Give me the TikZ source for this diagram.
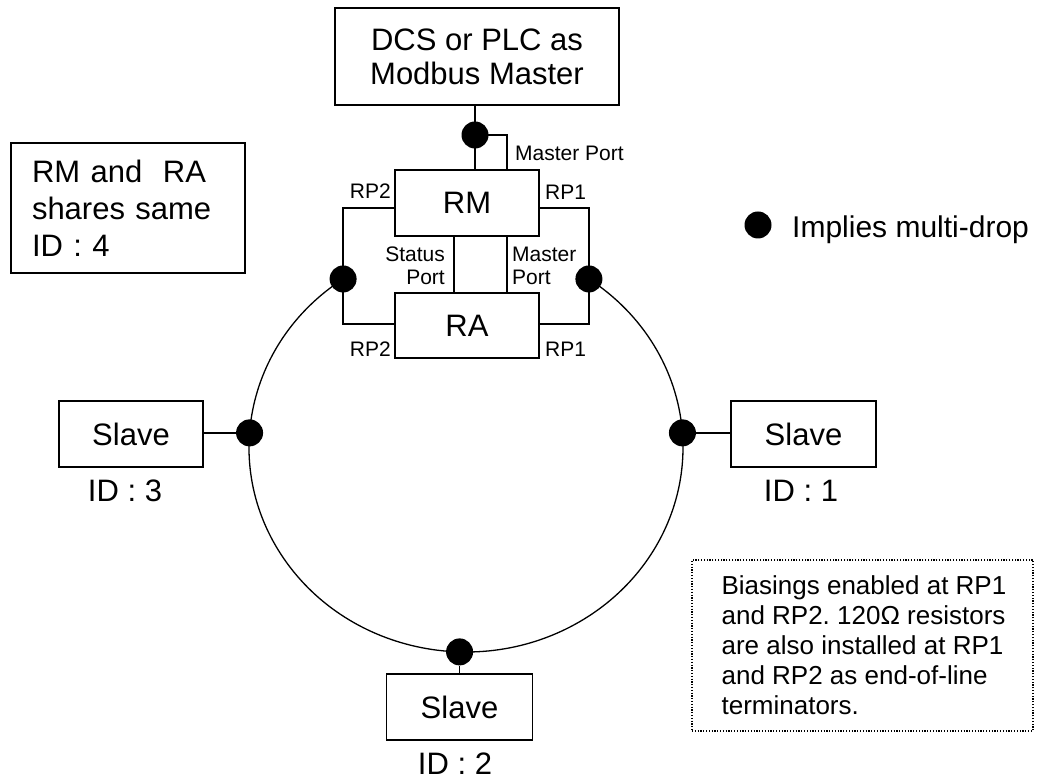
\documentclass[tikz,border=0pt]{standalone}
\usepackage{fontspec}
\setmainfont{Liberation Sans}
\usetikzlibrary{positioning, calc}
\frenchspacing

\begin{document}
\begin{tikzpicture}[
    x=1pt, y=1pt,
    box/.style={draw, line width=1.6pt, minimum width=144pt, minimum height=66pt, align=center, font=\fontsize{31}{34}\selectfont},
    wire/.style={line width=1.3pt},
    dot/.style={circle, fill=black, inner sep=0pt, minimum size=27pt},
    lbl/.style={inner sep=0pt, font=\fontsize{21}{23}\selectfont},
    big/.style={inner sep=0pt, font=\fontsize{31}{37}\selectfont}
]
\useasboundingbox (0,0) rectangle (1045,780);

% Master and the two RTUs
\node[box, minimum width=284pt, minimum height=97pt] (master) at (477,723.5) {DCS or PLC as\\Modbus Master};
\node[box] (rm) at (467,577) {RM};
\node[box, minimum height=65pt] (ra) at (467,454.5) {RA};

% Multi-drop points on the ring
\coordinate (ringc) at (466,332.5);
\node[dot] (dtop) at (475,645) {};
\node[dot] (drp2) at ($(ringc)+({217*cos(124.5)},{204.5*sin(124.5)})$) {};
\node[dot] (drp1) at ($(ringc)+({217*cos(55.5)},{204.5*sin(55.5)})$) {};
\node[dot] (d3) at ($(ringc)+({217*cos(175.9)},{204.5*sin(175.9)})$) {};
\node[dot] (d1) at ($(ringc)+({217*cos(4.1)},{204.5*sin(4.1)})$) {};
\node[dot] (d2) at ($(ringc)+({217*cos(268.3)},{204.5*sin(268.3)})$) {};

% Slaves
\node[box] (s3) at (131,346) {Slave};
\node[box, minimum width=145pt] (s1) at (803.5,346) {Slave};
\node[box, minimum width=146pt] (s2) at (459.5,73) {Slave};
\node[big, anchor=base] (id3) at (125,278) {ID : 3};
\node[big, anchor=base] (id1) at (801,278) {ID : 1};
\node[big, anchor=base] (id2) at (455,6) {ID : 2};

% Wiring
\draw[wire] (dtop |- master.south) -- (dtop |- rm.north);
\draw[wire] (dtop.center) -| ([xshift=40pt]rm.north);
\draw[wire] ([yshift=-5pt]rm.west) -| (drp2.center) |- ([yshift=1.5pt]ra.west);
\draw[wire] ([yshift=-5pt]rm.east) -| (drp1.center) |- ([yshift=1.5pt]ra.east);
\draw[wire] ([xshift=-13pt]rm.south) -- ([xshift=-13pt]ra.north);
\draw[wire] ([xshift=40pt]rm.south) -- ([xshift=40pt]ra.north);
\draw[wire] (drp2.center) arc[start angle=124.5, end angle=415.5, x radius=217pt, y radius=204.5pt];
\draw[wire] (d3) -- (d3 -| s3.east);
\draw[wire] (d1) -- (d1 -| s1.west);
\draw[wire] (d2) -- (d2 |- s2.north);

% Port labels
\node[lbl, anchor=base west] (mplbl) at (515,619) {Master Port};
\node[lbl, anchor=base east] (rp2a) at (391,581) {RP2};
\node[lbl, anchor=base west] (rp1a) at (545,580) {RP1};
\node[lbl, anchor=base east, align=right] (stlbl) at (445,495) {Status\\Port};
\node[lbl, anchor=base west, align=left] (mplbl2) at (512,495) {Master\\Port};
\node[lbl, anchor=base east] (rp2b) at (391,423) {RP2};
\node[lbl, anchor=base west] (rp1b) at (545,423) {RP1};

% Shared ID box
\node[draw, line width=1.6pt, minimum height=130pt, text width=192pt, align=left, inner xsep=21pt, font=\fontsize{31}{37}\selectfont] (shared) at (128,572) {RM and\ \ RA\\shares same\\ID : 4};

% Legend
\node[dot] (legdot) at (758,555) {};
\node[big, anchor=base west, font=\fontsize{30}{36}\selectfont] (legtext) at (792,542) {Implies multi-drop};

% Note
\node[draw, line width=1.2pt, dash pattern=on 1.2pt off 1.6pt, minimum width=341pt, minimum height=171pt] (note) at (862.5,134.5) {};
\node[anchor=west, align=left, inner sep=0pt, font=\fontsize{26}{30}\selectfont] (notetext) at ([xshift=30pt]note.west) {Biasings enabled at RP1\\and RP2. 120Ω resistors\\are also installed at RP1\\and RP2 as end-of-line\\terminators.};
\end{tikzpicture}
\end{document}
